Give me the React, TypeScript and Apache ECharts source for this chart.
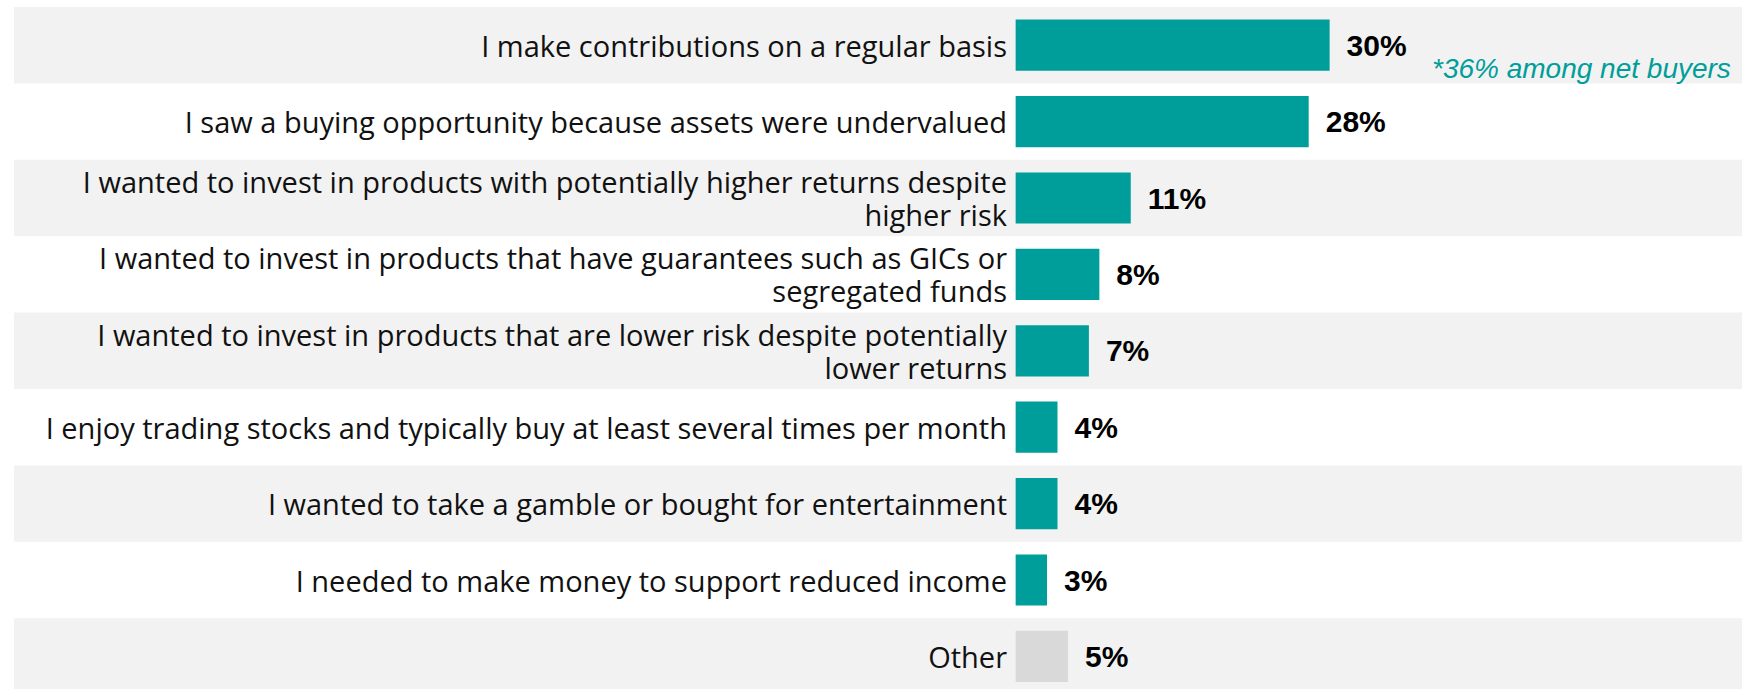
import React, { useEffect, useRef } from "react";
import * as echarts from "echarts";

const categories = [
  "I make contributions on a regular basis",
  "I saw a buying opportunity because assets were undervalued",
  "I wanted to invest in products with potentially higher returns despite\nhigher risk",
  "I wanted to invest in products that have guarantees such as GICs or\nsegregated funds",
  "I wanted to invest in products that are lower risk despite potentially\nlower returns",
  "I enjoy trading stocks and typically buy at least several times per month",
  "I wanted to take a gamble or bought for entertainment",
  "I needed to make money to support reduced income",
  "Other",
];
const values = [30, 28, 11, 8, 7, 4, 4, 3, 5];
const TEAL = "#009E9A";
const GRAY_BAR = "#D9D9D9";
const barColors = [TEAL, TEAL, TEAL, TEAL, TEAL, TEAL, TEAL, TEAL, GRAY_BAR];
const noteText = "*36% among net buyers";

// axis extent so that the value 0 sits where bars start
const X_MIN = -95.7;
const X_MAX = 69.4;
const GRID_LEFT = 14;
const BAR_START = 1016;

export default function App() {
  const ref = useRef<HTMLDivElement>(null);
  useEffect(() => {
    if (!ref.current) return;
    const chart = echarts.init(ref.current, null, { renderer: "svg" });
    chart.setOption({
      animation: false,
      backgroundColor: "#ffffff",
      grid: {
        left: GRID_LEFT,
        right: 3,
        top: 7,
        height: 687.6,
        containLabel: false,
        outerBoundsMode: "none",
      },
      xAxis: {
        type: "value",
        min: X_MIN,
        max: X_MAX,
        show: false,
        splitLine: { show: false },
      },
      yAxis: {
        type: "category",
        inverse: true,
        data: categories,
        offset: -(BAR_START - GRID_LEFT),
        axisLine: { show: false, onZero: false },
        axisTick: { show: false },
        splitLine: { show: false },
        splitArea: {
          show: true,
          areaStyle: { color: ["#F2F2F2", "rgba(255,255,255,0)"] },
        },
        axisLabel: {
          margin: 9,
          align: "right",
          fontFamily: "Open Sans",
          fontSize: 29,
          lineHeight: 33,
          color: "#111111",
        },
      },
      series: [
        {
          type: "bar",
          barCategoryGap: "33%",
          data: values.map((v, i) => ({
            value: v,
            itemStyle: { color: barColors[i] },
          })),
          label: {
            show: true,
            position: "right",
            distance: 17,
            formatter: "{c}%",
            fontFamily: "Liberation Sans",
            fontWeight: "bold",
            fontSize: 30,
            color: "#000000",
          },
        },
      ],
      graphic: [
        {
          type: "text",
          x: 1432,
          y: 68,
          z: 100,
          style: {
            text: noteText,
            font: "italic 28px 'Liberation Sans'",
            fill: TEAL,
            verticalAlign: "middle",
            align: "left",
          },
        },
      ],
    });
    return () => chart.dispose();
  }, []);
  return (
    <div
      ref={ref}
      style={{ position: "fixed", left: 0, top: 0, width: 1745, height: 689 }}
    />
  );
}
